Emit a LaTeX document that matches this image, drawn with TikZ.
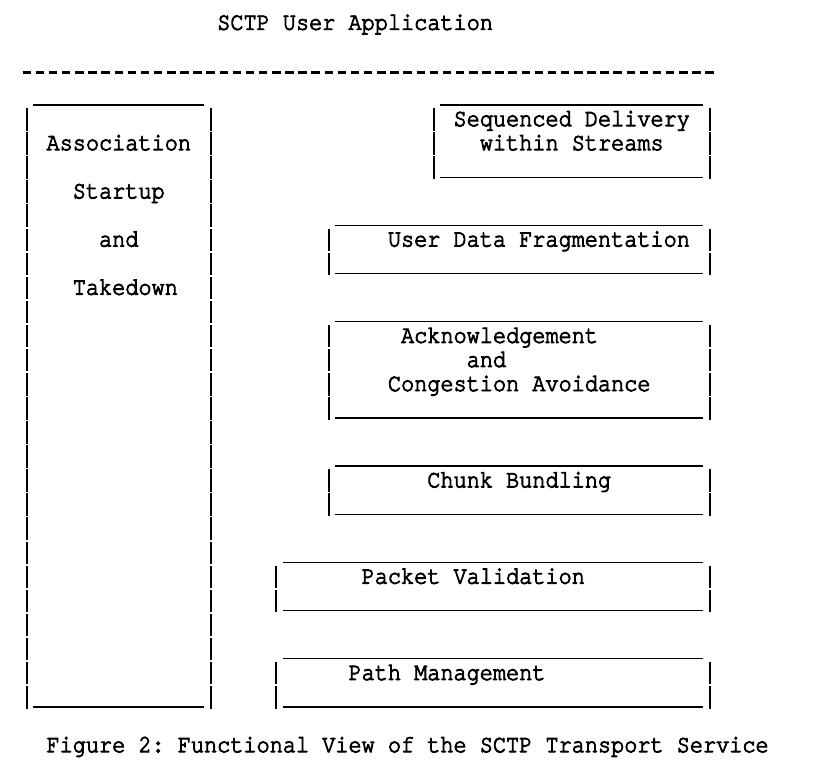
\documentclass[tikz,border=0pt]{standalone}
\usepackage{fontspec}
\newfontfamily\cour[FakeBold=3.5,FakeStretch=0.8753]{texgyrecursor-regular.otf}
\pgfmathdeclarefunction{colx}{1}{\pgfmathparse{20.3+13.13*#1}}
\pgfmathdeclarefunction{liney}{1}{\pgfmathparse{30.3+24.08*#1}}
\tikzset{
  lbl/.style={inner sep=0pt, outer sep=0pt, anchor=base west,
    font=\cour\fontsize{25}{24}\selectfont\frenchspacing, text=black},
  uline/.style={line width=1.3pt, black},
  vbar/.style={line width=1.8pt, black},
  dashline/.style={line width=2.5pt, black, dash pattern=on 8.5pt off 4.63pt}
}
% \asciibox{name}{left col}{right col}{top line}{bottom line}
\newcommand\asciibox[5]{%
  \coordinate (#1-nw) at ({colx(#2)+6.565},{liney(#4)+2.4});
  \coordinate (#1-se) at ({colx(#3)+6.565},{liney(#5)+2.4});
  \draw[uline] ({colx(#2+1)},{liney(#4)+2.4}) -- ({colx(#3)},{liney(#4)+2.4});
  \draw[uline] ({colx(#2+1)},{liney(#5)+2.4}) -- ({colx(#3)},{liney(#5)+2.4});
  \pgfmathtruncatemacro\firstL{#4+1}
  \foreach \L in {\firstL,...,#5}{
    \draw[vbar] ({colx(#2)+6.565},{liney(\L)-18.5}) -- ({colx(#2)+6.565},{liney(\L)+4});
    \draw[vbar] ({colx(#3)+6.565},{liney(\L)-18.5}) -- ({colx(#3)+6.565},{liney(\L)+4});
  }%
}
\newcommand\txt[4]{\node[lbl] (#1) at ({colx(#2)},{liney(#3)-0.5}) {#4};}
\begin{document}
\begin{tikzpicture}[x=1pt,y=-1pt]
\useasboundingbox[fill=white] (0,0) rectangle (815,769);

\txt{title}{15}{0}{SCTP User Application}
\coordinate (dashL) at ({colx(0)+2.3},{liney(2)-5.9});
\coordinate (dashR) at ({colx(52)+10.8},{liney(2)-5.9});
\draw[dashline] (dashL) -- (dashR);

% left box
\asciibox{assocbox}{0}{14}{3}{28}
\txt{assoc}{2}{5}{Association}
\txt{startup}{4}{7}{Startup}
\txt{and1}{6}{9}{and}
\txt{takedown}{4}{11}{Takedown}

% sequenced delivery
\asciibox{seqbox}{31}{52}{3}{6}
\txt{seq1}{33}{4}{Sequenced Delivery}
\txt{seq2}{35}{5}{within Streams}

% user data fragmentation
\asciibox{udfbox}{23}{52}{8}{10}
\txt{udf}{28}{9}{User Data Fragmentation}

% acknowledgement
\asciibox{ackbox}{23}{52}{12}{16}
\txt{ack1}{29}{13}{Acknowledgement}
\txt{ack2}{34}{14}{and}
\txt{ack3}{28}{15}{Congestion Avoidance}

% chunk bundling
\asciibox{chunkbox}{23}{52}{18}{20}
\txt{chunk}{31}{19}{Chunk Bundling}

% packet validation
\asciibox{pktbox}{19}{52}{22}{24}
\txt{pkt}{26}{23}{Packet Validation}

% path management
\asciibox{pathbox}{19}{52}{26}{28}
\txt{path}{25}{27}{Path Management}

\txt{caption}{2}{30}{Figure 2: Functional View of the SCTP Transport Service}
\end{tikzpicture}
\end{document}
